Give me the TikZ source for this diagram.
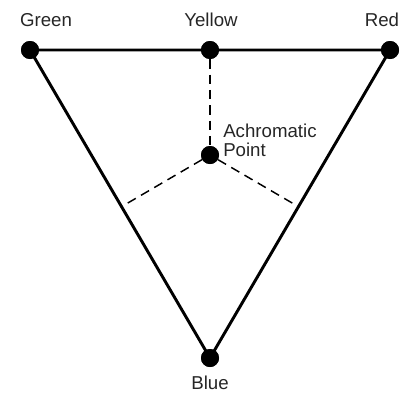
\documentclass[tikz,border=0pt]{standalone}
\usepackage{fontspec}
\setmainfont{Liberation Sans}
\usepackage{tikz}
\usetikzlibrary{calc}

\tikzset{
  dot/.style={circle,fill=black,inner sep=0pt,minimum size=13.5pt},
  txt/.style={font=\fontsize{14pt}{14.5pt}\selectfont,text=black!85,inner sep=0pt}
}

\begin{document}
\begin{tikzpicture}[x=0.75pt,y=-0.75pt]
      \useasboundingbox (0,0) rectangle (410,393);
      \node[dot] (green) at (30,50) {};
      \node[dot] (yellow) at (210,50) {};
      \node[dot] (red) at (390,50) {};
      \node[dot] (blue) at (210,358) {};
      \node[dot] (achro) at (210,155) {};
      % feet of the dashed lines on the two sides
      \coordinate (footl) at ($(green)!(achro)!(blue)$);
      \coordinate (footr) at ($(red)!(achro)!(blue)$);
      \draw[line width=2.2pt,line join=round] (green.center) -- (red.center) -- (blue.center) -- cycle;
      \draw[line width=1.1pt,dash pattern=on 7pt off 4.5pt] (yellow) -- (achro);
      \draw[line width=1.1pt,dash pattern=on 7pt off 4.5pt] (achro) -- (footl);
      \draw[line width=1.1pt,dash pattern=on 7pt off 4.5pt] (achro) -- (footr);
      \node[dot] at (green) {};
      \node[dot] at (yellow) {};
      \node[dot] at (red) {};
      \node[dot] at (blue) {};
      \node[dot] at (achro) {};
      \node[txt] (lgreen) at (46,20) {Green};
      \node[txt] (lyellow) at (211,20) {Yellow};
      \node[txt] (lred) at (382,20) {Red};
      \node[txt] (lblue) at (210,383) {Blue};
      \node[txt,anchor=west,align=left] (lachro) at (223,140) {Achromatic\\Point};
\end{tikzpicture}
\end{document}
